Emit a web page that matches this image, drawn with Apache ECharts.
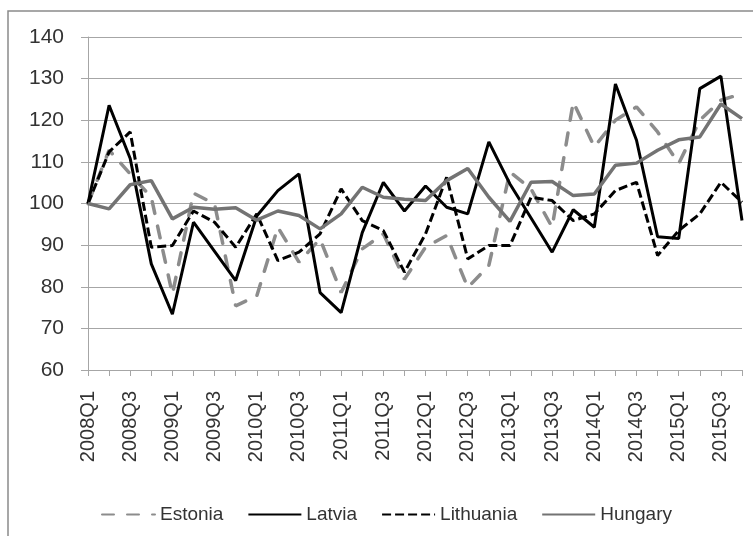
<!DOCTYPE html>
<html>
<head>
<meta charset="utf-8">
<script src="https://cdn.jsdelivr.net/npm/echarts@6/dist/echarts.min.js"></script>
<style>
  html, body { margin: 0; padding: 0; background: #fff; }
  #chart { width: 753px; height: 536px; }
</style>
</head>
<body>
<div id="chart"></div>
<script>
var quarters = []
for (var y = 2008; y <= 2015; y++) {
  for (var q = 1; q <= 4; q++) quarters.push(y + 'Q' + q)
}

var estonia = [100, 112.8, 107.1, 101.5, 78.2, 102.5, 99.9, 75.4, 77.8, 94.3, 85.9, 91.5, 78.6, 89.1, 92.7, 81.8,
  89.5, 92.3, 79.8, 85.1, 107.6, 103.5, 94.3, 124.4, 113.6, 120.0, 123.2, 117.2, 109.6, 120.0, 124.8, 126.4]
var latvia = [100, 123.6, 110.8, 85.5, 73.4, 95.5, 88.5, 81.5, 97.0, 103.1, 107.1, 78.6, 73.8, 93.0, 105.1, 98.2,
  104.2, 99.1, 97.5, 114.8, 104.7, 96.5, 88.3, 98.5, 94.3, 128.7, 115.2, 92.0, 91.6, 127.6, 130.6, 95.9]
var lithuania = [100, 112.4, 117.2, 89.5, 89.9, 98.2, 95.5, 89.5, 97.5, 86.3, 88.3, 92.7, 103.5, 95.9, 93.5, 83.5,
  92.7, 106.3, 86.7, 89.9, 89.9, 101.5, 100.7, 95.9, 97.5, 103.1, 105.1, 87.5, 93.5, 97.5, 105.1, 100.3]
var hungary = [100, 98.7, 104.5, 105.5, 96.3, 99.1, 98.6, 99.0, 96.0, 98.2, 97.1, 93.9, 97.5, 103.9, 101.5, 101.0,
  100.7, 105.5, 108.4, 101.5, 95.7, 105.1, 105.3, 101.9, 102.3, 109.2, 109.7, 112.8, 115.3, 116.0, 123.9, 120.4]

var font = 'Liberation Sans'

function lineSeries(name, data, lineStyle) {
  return {
    name: name,
    type: 'line',
    data: data,
    symbol: 'none',
    lineStyle: lineStyle,
    itemStyle: { color: lineStyle.color }
  }
}

var chart = echarts.init(document.getElementById('chart'))
chart.setOption({
  backgroundColor: '#fff',
  animation: false,
  graphic: [{
    type: 'rect',
    shape: { x: 8, y: 11, width: 760, height: 540 },
    style: { fill: 'none', stroke: '#8a8a8a', lineWidth: 1.5 },
    silent: true
  }],
  grid: { left: 88, right: 11, top: 37, bottom: 166 },
  legend: {
    left: 96,
    top: 500,
    itemWidth: 53,
    itemHeight: 14,
    itemGap: 24,
    // hide the marker in the legend icon, keep the line
    itemStyle: { opacity: 0, borderWidth: 0 },
    textStyle: { fontFamily: font, fontSize: 19, color: '#333' },
    data: ['Estonia', 'Latvia', 'Lithuania', 'Hungary']
  },
  xAxis: {
    type: 'category',
    data: quarters,
    boundaryGap: false,
    axisLine: { lineStyle: { color: '#a6a6a6', width: 1 } },
    axisTick: { show: true, interval: 0, length: 6, lineStyle: { color: '#a6a6a6' } },
    axisLabel: {
      interval: 1,
      rotate: 90,
      margin: 21,
      fontFamily: font,
      fontSize: 20,
      color: '#333'
    },
    splitLine: { show: false }
  },
  yAxis: {
    type: 'value',
    min: 60,
    max: 140,
    interval: 10,
    axisLine: { show: true, lineStyle: { color: '#a6a6a6', width: 1 } },
    axisTick: { show: true, length: 7, lineStyle: { color: '#a6a6a6' } },
    axisLabel: { margin: 24, fontFamily: font, fontSize: 21, color: '#333' },
    splitLine: { lineStyle: { color: '#a6a6a6', width: 1 } }
  },
  series: [
    lineSeries('Estonia', estonia, { color: '#8c8c8c', width: 3.5, type: [12, 13], cap: 'round' }),
    lineSeries('Latvia', latvia, { color: '#000', width: 3 }),
    lineSeries('Lithuania', lithuania, { color: '#000', width: 3, type: [9, 4] }),
    lineSeries('Hungary', hungary, { color: '#737373', width: 3.5 })
  ]
})
</script>
</body>
</html>
